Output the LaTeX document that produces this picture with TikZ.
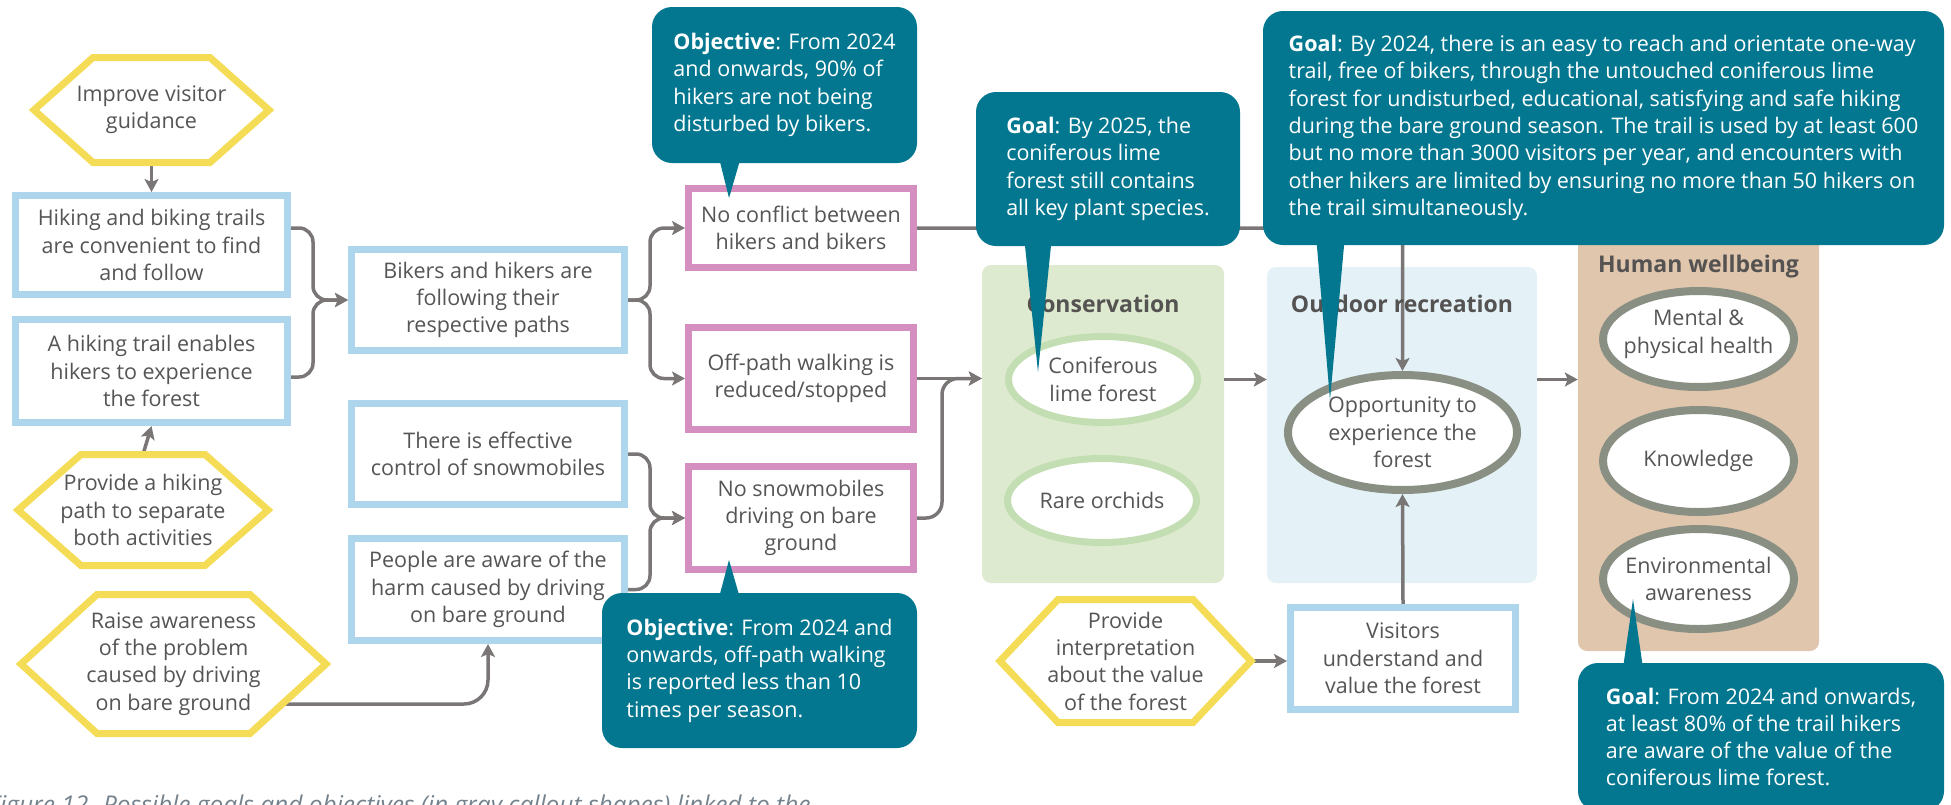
\documentclass[tikz,border=0pt]{standalone}
\usepackage{fontspec}
\setmainfont{Open Sans}
\usetikzlibrary{arrows.meta,shapes.geometric}

\definecolor{calloutteal}{HTML}{03778F}
\definecolor{boxblue}{HTML}{ADD5EC}
\definecolor{boxpink}{HTML}{D48EC0}
\definecolor{hexyellow}{HTML}{F5DC56}
\definecolor{linegray}{HTML}{7A7676}
\definecolor{inkgray}{HTML}{555555}
\definecolor{titlegray}{HTML}{555252}
\definecolor{consgreen}{HTML}{DEEACF}
\definecolor{ovalgreen}{HTML}{C2DEB2}
\definecolor{recblue}{HTML}{E4F2F8}
\definecolor{welltan}{HTML}{DFC6AD}
\definecolor{ovalgray}{HTML}{899083}
\definecolor{captiongray}{HTML}{75828C}

\pgfdeclarelayer{panels}
\pgfdeclarelayer{links}
\pgfdeclarelayer{shapes}
\pgfsetlayers{panels,links,shapes,main}

% hexagonal frame around an (invisible) text node; #2 = horizontal chamfer
\newcommand\hexframe[2]{%
  \begin{pgfonlayer}{shapes}
    \draw[hexline] (#1.west) -- ([xshift=#2]#1.north west) -- ([xshift=-#2]#1.north east)
      -- (#1.east) -- ([xshift=-#2]#1.south east) -- ([xshift=#2]#1.south west) -- cycle;
  \end{pgfonlayer}}

\begin{document}
\begin{tikzpicture}[x=1pt,y=-1pt,
  font=\fontsize{21.5}{27.3}\selectfont, text=inkgray,
  box/.style={draw=boxblue, line width=7pt, fill=white, align=center, inner sep=2pt},
  pinkbox/.style={box, draw=boxpink},
  hexnode/.style={align=center, inner sep=0pt, outer sep=0pt},
  hexline/.style={draw=hexyellow, line width=7pt, fill=white, line join=miter},
  oval/.style={ellipse, line width=7pt, fill=white, inner sep=0pt},
  greenoval/.style={oval, draw=ovalgreen},
  grayoval/.style={oval, draw=ovalgray, line width=8pt},
  panel/.style={rounded corners=9pt, inner sep=0pt},
  paneltitle/.style={font=\fontsize{23}{28}\selectfont\bfseries, text=titlegray, anchor=base},
  callout/.style={fill=calloutteal, rounded corners=20pt, text=white, align=left, inner sep=0pt},
  pointer/.style={fill=calloutteal},
  link/.style={draw=linegray, line width=3.5pt, -{Stealth[length=13pt,width=14pt,inset=3pt]}},
]
\useasboundingbox (0,0) rectangle (1951,804);

% ---------- outcome panels ----------
\begin{pgfonlayer}{panels}
  \node[panel, fill=consgreen, minimum width=242pt, minimum height=318pt] (cons) at (1103,424) {};
  \node[panel, fill=recblue, minimum width=270pt, minimum height=316pt] (outd) at (1402,425) {};
  \node[panel, fill=welltan, minimum width=241pt, minimum height=416pt] (hum) at (1698.5,443) {};
\end{pgfonlayer}
\node[paneltitle] (constitle) at (1103,312) {Conservation};
\node[paneltitle] (outdtitle) at (1402,312) {Outdoor recreation};
\node[paneltitle] (humtitle) at (1698.5,272) {Human wellbeing};

% ---------- strategies (hexagons) ----------
\node[hexnode, minimum width=235pt, minimum height=105pt] (h1) at (151.5,110) {Improve visitor\\guidance};
\hexframe{h1}{59pt}
\node[hexnode, minimum width=250pt, minimum height=111pt] (h2) at (143,510) {Provide a hiking\\path to separate\\both activities};
\hexframe{h2}{63pt}
\node[hexnode, minimum width=305pt, minimum height=139pt] (h3) at (173.5,664) {Raise awareness\\of the problem\\caused by driving\\on bare ground};
\hexframe{h3}{76pt}
\node[hexnode, minimum width=251pt, minimum height=123pt] (h4) at (1125.5,661) {Provide\\interpretation\\about the value\\of the forest};
\hexframe{h4}{58pt}

% ---------- intermediate results ----------
\node[box, minimum width=272pt, minimum height=99pt] (b1) at (151.5,245) {Hiking and biking trails\\are convenient to find\\and follow};
\node[box, minimum width=272pt, minimum height=103pt] (b2) at (151.5,371) {A hiking trail enables\\hikers to experience\\the forest};
\node[box, minimum width=273pt, minimum height=101pt] (b3) at (488,300) {Bikers and hikers are\\following their\\respective paths};
\node[box, minimum width=273pt, minimum height=101pt] (b4) at (488,454) {There is effective\\control of snowmobiles};
\node[box, minimum width=273pt, minimum height=102pt] (b5) at (488,589.5) {People are aware of the\\harm caused by driving\\on bare ground};
\node[box, minimum width=225pt, minimum height=102pt] (v) at (1403,658.5) {Visitors\\understand and\\value the forest};

% ---------- threat reduction results ----------
\node[pinkbox, minimum width=225pt, minimum height=79pt] (p1) at (801,228) {No conflict between\\hikers and bikers};
\node[pinkbox, minimum width=225pt, minimum height=102pt] (p2) at (801,378.5) {Off-path walking is\\reduced/stopped};
\node[pinkbox, minimum width=225pt, minimum height=103pt] (p3) at (801,518) {No snowmobiles\\driving on bare\\ground};

% ---------- targets ----------
\node[greenoval, minimum width=189pt, minimum height=86pt,
      label={[align=center]center:Coniferous\\lime forest}] (e1) at (1103,379.5) {};
\node[greenoval, minimum width=189pt, minimum height=84pt,
      label={[align=center]center:Rare orchids}] (e2) at (1102,500.5) {};
\node[grayoval, minimum width=229pt, minimum height=115pt,
      label={[align=center]center:Opportunity to\\experience the\\forest}] (e3) at (1402.5,432.5) {};
\node[grayoval, minimum width=191pt, minimum height=96pt,
      label={[align=center, yshift=5pt]center:Mental \&\\physical health}] (e4) at (1698.5,339) {};
\node[grayoval, minimum width=191pt, minimum height=102pt,
      label={[align=center]center:Knowledge}] (e5) at (1698.5,461) {};
\node[grayoval, minimum width=191pt, minimum height=100pt,
      label={[align=center]center:Environmental\\awareness}] (e6) at (1698.5,579) {};

% ---------- connectors ----------
\coordinate (j1) at (313,300);
\coordinate (j2) at (650,300);
\coordinate (j3) at (650,518);
\coordinate (j4) at (942,450);
\begin{pgfonlayer}{links}
  \draw[link] (h1.south) -- (b1.north);
  \draw[link] (h2.north) -- (b2.south);
  \draw[link, rounded corners=14pt] ([yshift=17pt]b1.east) -| (j1) -- (b3.west);
  \draw[link, rounded corners=14pt] ([yshift=-6pt]b2.east) -| (j1) -- (b3.west);
  \draw[link, rounded corners=14pt] (b3.east) -- (j2) |- (p1.west);
  \draw[link, rounded corners=14pt] (b3.east) -- (j2) |- (p2.west);
  \draw[link, rounded corners=14pt] (b4.east) -| (j3) -- (p3.west);
  \draw[link, rounded corners=14pt] (b5.east) -| (j3) -- (p3.west);
  \draw[link, rounded corners=24pt] ([yshift=-40pt]h3.center) -| (b5.south);
  \draw[link, rounded corners=16pt] (p1.east) -| (e3.north);
  \draw[link] (p2.east) -- (p2.east -| cons.west);
  \draw[link, rounded corners=16pt] (p3.east) -| (j4) |- (p2.east -| cons.west);
  \draw[link] (e1.east -| cons.east) -- (e1.east -| outd.west);
  \draw[link] (e1.east -| outd.east) -- (e1.east -| hum.west);
  \draw[link] (h4.east) -- (h4.east -| v.west);
  \draw[link] (v.north) -- (e3.south);
\end{pgfonlayer}

% ---------- goals and objectives (callouts) ----------
\node[callout, minimum width=265pt, minimum height=156pt] (c1) at (784.5,85)
  {\textbf{Objective}: From 2024\\and onwards, 90\% of\\hikers are not being\\disturbed by bikers.};
\fill[pointer] (717,150) -- (729,198) -- (743,150) -- cycle;

\node[callout, minimum width=264pt, minimum height=154pt] (c2) at (1108,169)
  {\textbf{Goal}: By 2025, the\\coniferous lime\\forest still contains\\all key plant species.};
\fill[pointer] (1024,236) -- (1038,372) -- (1052,236) -- cycle;

\node[callout, minimum width=681pt, minimum height=234pt] (c3) at (1603.5,128)
  {\textbf{Goal}: By 2024, there is an easy to reach and orientate one-way\\
   trail, free of bikers, through the untouched coniferous lime\\
   forest for undisturbed, educational, satisfying and safe hiking\\
   during the bare ground season. The trail is used by at least 600\\
   but no more than 3000 visitors per year, and encounters with\\
   other hikers are limited by ensuring no more than 50 hikers on\\
   the trail simultaneously.};
\fill[pointer] (1316,235) -- (1330,400) -- (1345,235) -- cycle;

\node[callout, minimum width=315pt, minimum height=155pt] (c4) at (759.5,670.5)
  {\textbf{Objective}: From 2024 and\\onwards, off-path walking\\is reported less than 10\\times per season.};
\fill[pointer] (717,605) -- (729,560) -- (742,605) -- cycle;

\node[callout, minimum width=366pt, minimum height=148pt] (c5) at (1761,737)
  {\textbf{Goal}: From 2024 and onwards,\\at least 80\% of the trail hikers\\are aware of the value of the\\coniferous lime forest.};
\fill[pointer] (1622,675) -- (1633,599) -- (1644,675) -- cycle;

% ---------- caption (runs past the lower and left edges) ----------
\node[anchor=base east, text=captiongray, font=\fontsize{24.5}{30}\selectfont\itshape, inner sep=0pt]
  (caption) at (811,813) {Figure 12. Possible goals and objectives (in gray callout shapes) linked to the};
\end{tikzpicture}
\end{document}
